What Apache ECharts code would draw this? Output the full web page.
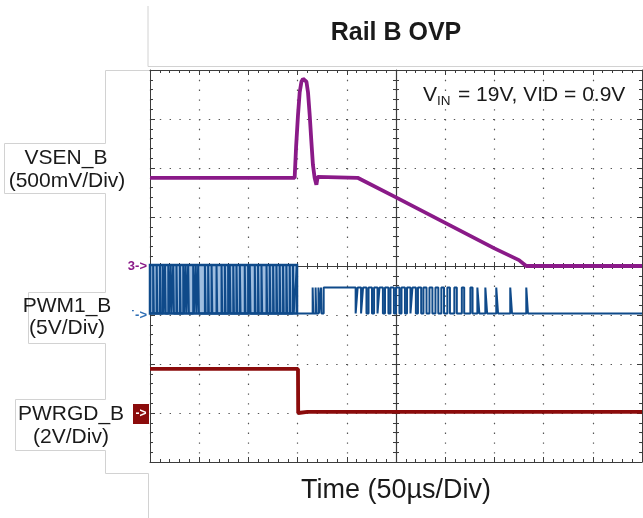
<!DOCTYPE html>
<html>
<head>
<meta charset="utf-8">
<script src="https://cdn.jsdelivr.net/npm/echarts@6/dist/echarts.min.js"></script>
<style>
  html, body { margin: 0; padding: 0; background: #ffffff; }
  #chart { width: 643px; height: 518px; }
</style>
</head>
<body>
<div id="chart"></div>
<script>
// ---- Acquisition: 50 us/div over 10 divisions --------------------------
const timeRange = [0, 500];              // us
const timeStep = 50;                     // us per division

// ---- VSEN_B (500 mV/div, ground on the centre graticule line) ----------
const vsenTime = [0, 147.0, 148.5, 150.4, 152.1, 153.9, 155.5, 157.2, 159.0, 160.6,
                  162.3, 164.0, 165.6, 167.3, 169.1, 170.4, 172.0, 211.0, 250.0,
                  300.0, 350.0, 375.0, 382.4, 500.0];
const vsenVolt = [0.90, 0.90, 1.22, 1.54, 1.77, 1.88, 1.91, 1.92, 1.88, 1.77,
                  1.54, 1.27, 1.03, 0.90, 0.83, 0.91, 0.90, 0.90, 0.70,
                  0.44, 0.18, 0.06, 0.00, 0.00];

// ---- PWRGD_B (2 V/div) -------------------------------------------------
const pwrgdTime = [0, 150.4, 150.6, 160.0, 500.0];
const pwrgdVolt = [1.80, 1.80, 0.00, 0.05, 0.05];

// ---- PWM1_B (5 V/div) --------------------------------------------------
const pwmLevels = { low: 0.15, mid: 2.8, high: 5.1 };
const pwmStopTime = 149.4;               // switching stops at the fault
// strongest switching edges visible while regulating (us)
const pwmSwitchEdges = [3.2, 6.8, 10.1, 12.9, 15.2, 18.6, 21.0, 23.6, 26.9, 30.4, 33.8, 36.2, 38.8,
                        43.9, 46.5, 49.0, 55.8, 59.1, 62.6, 67.6, 72.7, 76.1, 79.4, 81.1,
                        84.6, 87.9, 91.3, 96.3, 99.7, 101.4, 106.5, 109.8, 113.3, 118.4,
                        121.7, 125.1, 128.5, 131.8, 135.2, 138.6, 142.0, 145.3];
// mid-level pulses after the fault (us)
const faultPulseStart = [165.3, 168.3, 171.2, 173.8, 176.5, 211.0, 216.5, 222.1, 227.7,
                         233.2, 238.8, 244.4, 250.0, 255.6, 261.2, 266.7, 272.3, 277.9,
                         284.0, 290.1, 296.1, 302.2, 309.3, 316.9, 325.6, 332.7, 340.8,
                         351.9, 366.1, 382.4];
const faultPulseEnd   = [165.9, 168.9, 171.8, 174.3, 209.0, 214.5, 220.0, 225.6, 231.2,
                         236.7, 242.3, 247.9, 253.5, 259.1, 264.7, 270.2, 275.6, 281.0,
                         287.0, 293.0, 298.8, 304.8, 311.8, 319.3, 327.8, 334.7, 342.6,
                         353.7, 367.9, 384.1];

// ---- Text ---------------------------------------------------------------
const titleText = 'Rail B OVP';
const xAxisTitle = 'Time (50\u00B5s/Div)';
const channelNames = ['VSEN_B', 'PWM1_B', 'PWRGD_B'];
const channelScales = ['(500mV/Div)', '(5V/Div)', '(2V/Div)'];

// ---- Styling -------------------------------------------------------------
const GRID = { left: 150, top: 70, width: 492, height: 392 };
const COLORS = {
  vsen: '#8a1a88',
  pwm: '#0f4a8a',
  pwmFill: '#9fbee0',
  pwrgd: '#8b0b0b',
  axis: '#3c3c3c',
  dots: '#555555',
  frame: '#d2d2d2',
  text: '#1a1a1a'
};
const FONT = '"Liberation Sans", Arial, sans-serif';

const zip = (xs, ys) => xs.map((x, i) => [x, ys[i]]);

const vsenData = zip(vsenTime, vsenVolt);
const pwrgdData = zip(pwrgdTime, pwrgdVolt);

const pwmData = [[0, pwmLevels.low]];
pwmSwitchEdges.forEach(t => {
  pwmData.push([t, pwmLevels.low], [t, pwmLevels.high], [t + 0.7, pwmLevels.high], [t + 0.7, pwmLevels.low]);
});
pwmData.push([pwmStopTime, pwmLevels.high], [pwmStopTime, pwmLevels.low]);
faultPulseStart.forEach((s, i) => {
  const e = faultPulseEnd[i];
  pwmData.push([s, pwmLevels.low], [s, pwmLevels.mid], [e, pwmLevels.mid], [e, pwmLevels.low]);
});
pwmData.push([timeRange[1], pwmLevels.low]);

const dotted = { show: true, lineStyle: { color: COLORS.dots, width: 1.2, type: [1.4, 8.4] } };
const tickStyle = { color: COLORS.axis, width: 1 };

function timeAxis(extra) {
  return Object.assign({
    type: 'value', min: timeRange[0], max: timeRange[1], interval: timeStep,
    axisLabel: { show: false },
    axisLine: { show: true, onZero: false, lineStyle: { color: COLORS.axis, width: 1 } },
    axisTick: { show: true, inside: true, length: 5, lineStyle: tickStyle },
    minorTick: { show: true, splitNumber: 5, length: 3, lineStyle: tickStyle },
    splitLine: { show: false }
  }, extra);
}
function divAxis(extra) {
  return Object.assign({
    type: 'value', min: -4, max: 4, interval: 1,
    axisLabel: { show: false },
    axisLine: { show: true, onZero: false, lineStyle: { color: COLORS.axis, width: 1 } },
    axisTick: { show: true, inside: true, length: 5, lineStyle: tickStyle },
    minorTick: { show: true, splitNumber: 5, length: 3, lineStyle: tickStyle },
    splitLine: { show: false }
  }, extra);
}

const option = {
  animation: false,
  backgroundColor: '#ffffff',
  grid: Object.assign({ containLabel: false }, GRID),
  xAxis: [
    timeAxis({ position: 'bottom', splitLine: dotted }),
    timeAxis({ position: 'top' }),
    // centre horizontal graticule line, ticks crossing both ways
    timeAxis({ position: 'bottom', axisLine: { show: true, onZero: true, onZeroAxisIndex: 0, lineStyle: { color: COLORS.axis, width: 1.2 } }, axisTick: { show: true, inside: true, length: 4, lineStyle: tickStyle } }),
    timeAxis({ position: 'bottom', axisLine: { show: false, onZero: true, onZeroAxisIndex: 0 }, axisTick: { show: true, inside: false, length: 4, lineStyle: tickStyle } }),
    // symmetric reference used to place the vertical centre line
    { type: 'value', min: -250, max: 250, show: false }
  ],
  yAxis: [
    // VSEN_B: 500 mV/div, ground at centre
    divAxis({ min: -2, max: 2, interval: 0.5, position: 'left', splitLine: dotted }),
    // PWM1_B: 5 V/div, ground one division below centre
    { type: 'value', min: -15, max: 25, interval: 5, show: false },
    // PWRGD_B: 2 V/div, ground three divisions below centre
    { type: 'value', min: -2, max: 14, interval: 2, show: false },
    divAxis({ position: 'right' }),
    divAxis({ position: 'left', axisLine: { show: true, onZero: true, onZeroAxisIndex: 4, lineStyle: { color: COLORS.axis, width: 1.2 } }, axisTick: { show: true, inside: true, length: 4, lineStyle: tickStyle } }),
    divAxis({ position: 'left', axisLine: { show: false, onZero: true, onZeroAxisIndex: 4 }, axisTick: { show: true, inside: false, length: 4, lineStyle: tickStyle } })
  ],
  series: [
    {
      name: 'PWRGD_B', type: 'line', xAxisIndex: 0, yAxisIndex: 2,
      data: pwrgdData, showSymbol: false, symbol: 'none',
      lineStyle: { color: COLORS.pwrgd, width: 3.8 }, z: 3
    },
    {
      name: 'PWM1_B', type: 'line', xAxisIndex: 0, yAxisIndex: 1,
      data: pwmData, showSymbol: false, symbol: 'none', sampling: null,
      lineStyle: { color: COLORS.pwm, width: 2 }, z: 4,
      markArea: {
        silent: true,
        itemStyle: { color: COLORS.pwmFill, borderColor: COLORS.pwm, borderWidth: 2.5 },
        data: [[{ xAxis: timeRange[0], yAxis: pwmLevels.low }, { xAxis: pwmStopTime, yAxis: pwmLevels.high }]]
      }
    },
    {
      name: 'VSEN_B', type: 'line', xAxisIndex: 0, yAxisIndex: 0,
      data: vsenData, showSymbol: false, symbol: 'none',
      lineStyle: { color: COLORS.vsen, width: 3.8 }, z: 5
    }
  ]
};

const chart = echarts.init(document.getElementById('chart'), null, { renderer: 'canvas' });
chart.setOption(option);

// Channel ground markers follow each channel's own zero
const yVsen0 = chart.convertToPixel({ yAxisIndex: 0 }, 0);
const yPwm0 = chart.convertToPixel({ yAxisIndex: 1 }, 0);
const yPwrgd0 = chart.convertToPixel({ yAxisIndex: 2 }, 0);
const xCentre = chart.convertToPixel({ xAxisIndex: 0 }, (timeRange[0] + timeRange[1]) / 2);
const gx = GRID.left;

function label(text, x, y, size, opts) {
  return {
    type: 'text', x: x, y: y, silent: true,
    style: Object.assign({ text: text, fill: COLORS.text, fontFamily: FONT, fontSize: size, align: 'center', verticalAlign: 'middle' }, opts || {})
  };
}

chart.setOption({
  graphic: [
    // title panel
    { type: 'polyline', silent: true, shape: { points: [[gx - 2, 6], [gx - 2, 66.5], [643, 66.5]] }, style: { stroke: COLORS.frame, fill: null, lineWidth: 1 } },
    label(titleText, xCentre, 33, 25, { fontWeight: 'bold' }),
    // channel label panel
    { type: 'polyline', silent: true, shape: { points: [[gx, 70.5], [105.5, 70.5], [105.5, 143.5], [4.5, 143.5], [4.5, 193.5], [105.5, 193.5], [105.5, 292.5], [28.5, 292.5], [28.5, 343.5], [105.5, 343.5], [105.5, 399.5], [15.5, 399.5], [15.5, 450.5], [105.5, 450.5], [105.5, 473.5], [148.5, 473.5], [148.5, 518]] }, style: { stroke: COLORS.frame, fill: null, lineWidth: 1 } },
    label(channelNames[0], 66, 158, 21),
    label(channelScales[0], 67, 181, 21),
    label(channelNames[1], 67, 306, 21),
    label(channelScales[1], 67, 328, 21),
    label(channelNames[2], 71, 414, 21),
    label(channelScales[2], 71, 437, 21),
    // ground markers
    label('3->', gx - 3, yVsen0, 13, { fill: COLORS.vsen, align: 'right', fontWeight: 'bold' }),
    label('\u02D9->', gx - 3, yPwm0, 13, { fill: '#2f6fb5', align: 'right', fontWeight: 'bold' }),
    { type: 'rect', silent: true, shape: { x: gx - 17, y: yPwrgd0 - 9, width: 16, height: 20 }, style: { fill: COLORS.pwrgd } },
    label('->', gx - 9, yPwrgd0 + 1, 12, { fill: '#ffffff', fontWeight: 'bold' }),
    // conditions
    label('V', 423, 95, 21, { align: 'left' }),
    label('IN', 437, 101, 13.5, { align: 'left' }),
    label('= 19V, VID = 0.9V', 458, 95, 21, { align: 'left' }),
    // time base
    label(xAxisTitle, xCentre, 491, 27)
  ]
});
</script>
</body>
</html>
